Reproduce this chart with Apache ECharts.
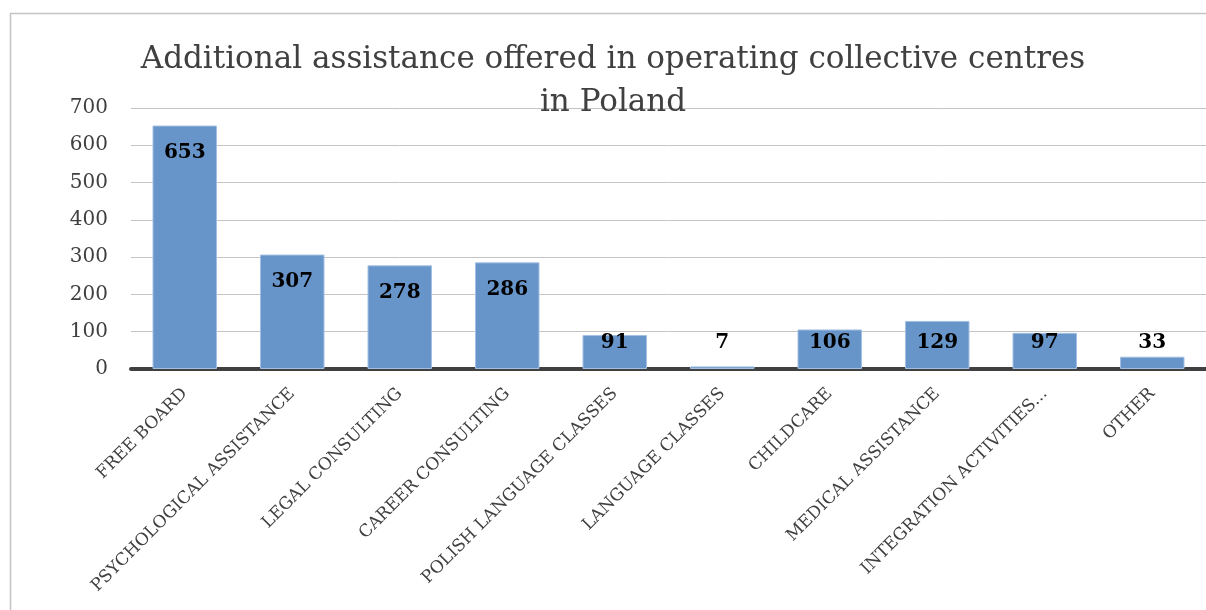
<!DOCTYPE html>
<html>
<head>
<meta charset="utf-8">
<script src="https://cdn.jsdelivr.net/npm/echarts@6/dist/echarts.min.js"></script>
<style>
  html, body { margin: 0; padding: 0; background: #fff; }
  #chart { width: 1206px; height: 610px; }
</style>
</head>
<body>
<div id="chart"></div>
<script>
// Services offered in collective centres
const categories = [
  'FREE BOARD',
  'PSYCHOLOGICAL ASSISTANCE',
  'LEGAL CONSULTING',
  'CAREER CONSULTING',
  'POLISH LANGUAGE CLASSES',
  'LANGUAGE CLASSES',
  'CHILDCARE',
  'MEDICAL ASSISTANCE',
  'INTEGRATION ACTIVITIES...',
  'OTHER'
];
const counts = [653, 307, 278, 286, 91, 7, 106, 129, 97, 33];
const yTicks = { min: 0, max: 700, interval: 100 };
const titleText = 'Additional assistance offered in operating collective centres\nin Poland';

const serif = '"DejaVu Serif", "Liberation Serif", serif';
const chart = echarts.init(document.getElementById('chart'));

chart.setOption({
  animation: false,
  backgroundColor: '#ffffff',
  title: {
    text: titleText,
    left: 608,
    top: 33,
    textAlign: 'center',
    textStyle: {
      fontFamily: serif,
      fontWeight: 'normal',
      fontSize: 31,
      lineHeight: 43,
      color: '#404040'
    }
  },
  graphic: [{
    type: 'rect',
    shape: { x: 10.5, y: 13.5, width: 1400, height: 800 },
    style: { fill: 'none', stroke: '#c4c4c4', lineWidth: 1.5 },
    z: -1
  }],
  grid: { left: 131, top: 108, width: 1083, height: 261, containLabel: false },
  xAxis: {
    type: 'category',
    data: categories,
    axisLine: { show: true, lineStyle: { color: '#404040', width: 4 } },
    axisTick: { show: false },
    axisLabel: {
      interval: 0,
      rotate: 45,
      margin: 22,
      fontFamily: serif,
      fontSize: 17,
      color: '#404040'
    }
  },
  yAxis: {
    type: 'value',
    min: yTicks.min,
    max: yTicks.max,
    interval: yTicks.interval,
    axisLine: { show: false },
    axisTick: { show: false },
    splitLine: { lineStyle: { color: '#c4c4c4', width: 1 } },
    axisLabel: {
      margin: 23,
      fontFamily: serif,
      fontSize: 20,
      color: '#404040'
    }
  },
  series: [{
    type: 'bar',
    data: counts,
    barWidth: '60%',
    itemStyle: {
      color: '#6795c9',
      borderColor: '#a3c0e2',
      borderWidth: 1
    },
    label: {
      show: true,
      position: 'insideTop',
      fontFamily: serif,
      fontWeight: 'bold',
      fontSize: 20,
      color: '#000000'
    },
    // keep every value label clear of the axis line on short bars
    labelLayout: function (params) {
      const r = params.rect;
      const top = r.y;
      const bottom = r.y + r.height;
      return {
        x: r.x + r.width / 2,
        y: Math.min(top + 27, bottom - 26),
        align: 'center',
        verticalAlign: 'middle'
      };
    }
  }]
});
</script>
</body>
</html>
